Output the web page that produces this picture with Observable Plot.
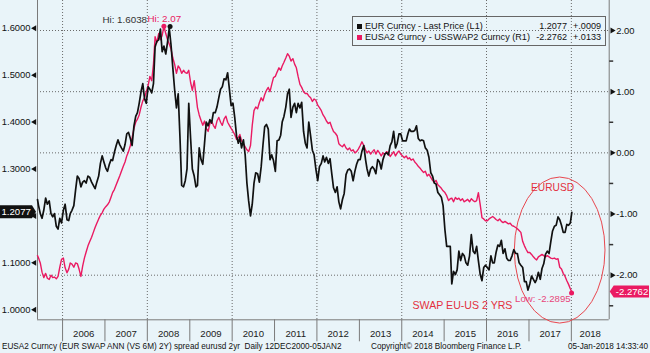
<!DOCTYPE html>
<html>
<head>
<meta charset="utf-8">
<script src="https://cdn.jsdelivr.net/npm/d3@7"></script>
<script src="https://cdn.jsdelivr.net/npm/@observablehq/plot@0.6"></script>
<style>
  html, body { margin:0; padding:0; background:#e9f4f9; }
  #wrap { position:relative; width:650px; height:353px; overflow:hidden; font-family:"Liberation Sans", Arial, sans-serif; color:#111; }
  #chart svg { display:block; }
  #legend { position:absolute; left:352px; top:16px; width:254px; height:30px; border:1px solid #666; box-sizing:border-box; font-size:9.1px; }
  #legend .row { position:absolute; left:0; right:0; height:11px; line-height:11px; white-space:nowrap; }
  #legend .sw { position:absolute; left:4px; top:3px; width:5px; height:5px; }
  #legend .name { position:absolute; left:12px; }
  #legend .val { position:absolute; right:38px; }
  #legend .chg { position:absolute; left:220px; }
  #caption { position:relative; height:12px; font-size:8.2px; line-height:12px; white-space:pre; color:#111; }
  #caption span { position:absolute; top:0; }
</style>
</head>
<body>
<div id="wrap">
  <div id="chart"></div>
  <div id="caption"></div>
  <div id="legend"></div>
</div>
<script>
// ---------------- DATA ----------------
// half-monthly readings (≈8th and ≈23rd of each month), June 2005 .. Dec 2017
const seriesStartYear = 2005, seriesStartMonth = 5; // June (0-based)
const eurusd = [
  1.222,1.205, 1.195,1.212, 1.238,1.225, 1.232,1.205, 1.198,1.205, 1.178,1.172, 1.195,1.185,               // 2005 Jun-Dec
  1.212,1.225, 1.192,1.190, 1.205,1.212, 1.222,1.255, 1.285,1.280, 1.262,1.272, 1.275,1.270, 1.285,1.282, 1.272,1.265, 1.258,1.272, 1.285,1.312, 1.328,1.315, // 2006
  1.302,1.295, 1.310,1.320, 1.318,1.335, 1.350,1.362, 1.352,1.345, 1.338,1.352, 1.375,1.378, 1.365,1.350, 1.392,1.412, 1.420,1.440, 1.465,1.482, 1.450,1.440, // 2007
  1.475,1.470, 1.462,1.482, 1.560,1.572, 1.575,1.598, 1.550,1.562, 1.545,1.570, 1.600,1.565, 1.515,1.470, 1.430,1.460, 1.370,1.265, 1.262,1.275, 1.300,1.440, // 2008
  1.365,1.300, 1.285,1.262, 1.265,1.345, 1.320,1.310, 1.355,1.400, 1.392,1.405, 1.398,1.420, 1.420,1.432, 1.452,1.470, 1.475,1.492, 1.490,1.505, 1.470,1.435, // 2009
  1.440,1.410, 1.370,1.355, 1.368,1.345, 1.362,1.330, 1.270,1.232, 1.200,1.225, 1.270,1.292, 1.290,1.272, 1.305,1.350, 1.390,1.395, 1.385,1.320, 1.330,1.318, // 2010
  1.295,1.360, 1.362,1.372, 1.400,1.412, 1.432,1.460, 1.470,1.410, 1.432,1.440, 1.420,1.440, 1.430,1.442, 1.380,1.355, 1.345,1.400, 1.370,1.340, 1.330,1.300, // 2011
  1.275,1.305, 1.312,1.328, 1.315,1.325, 1.312,1.322, 1.290,1.260, 1.250,1.262, 1.230,1.215, 1.235,1.248, 1.288,1.298, 1.300,1.295, 1.275,1.295, 1.310,1.320, // 2012
  1.320,1.338, 1.350,1.320, 1.300,1.285, 1.300,1.305, 1.300,1.290, 1.320,1.315, 1.300,1.320, 1.332,1.335, 1.330,1.350, 1.358,1.380, 1.345,1.355, 1.375,1.375, // 2013
  1.360,1.360, 1.360,1.375, 1.385,1.380, 1.380,1.382, 1.392,1.365, 1.360,1.362, 1.360,1.345, 1.340,1.325, 1.292,1.285, 1.270,1.268, 1.250,1.245, 1.240,1.222, // 2014
  1.170,1.135, 1.135,1.135, 1.055,1.082, 1.075,1.085, 1.125,1.105, 1.120,1.115, 1.100,1.095, 1.115,1.160, 1.125,1.120, 1.135,1.105, 1.075,1.062, 1.090,1.095, // 2015
  1.090,1.085, 1.115,1.100, 1.100,1.122, 1.138,1.135, 1.148,1.120, 1.130,1.110, 1.105,1.105, 1.115,1.128, 1.120,1.120, 1.100,1.095, 1.090,1.060, 1.060,1.042, // 2016
  1.055,1.072, 1.065,1.058, 1.065,1.080, 1.065,1.088, 1.098,1.118, 1.125,1.120, 1.145,1.168, 1.178,1.180, 1.198,1.192, 1.180,1.165, 1.165,1.182, 1.180,1.185  // 2017
];
const swapSpread = [
  -1.72,-1.80, -1.95,-2.04, -1.97,-2.05, -2.07,-2.00, -2.04,-2.03, -2.06,-2.02, -1.87,-1.74,               // 2005 Jun-Dec
  -1.72,-1.88, -1.96,-1.90, -1.80,-1.82, -1.87,-1.80, -1.81,-1.90, -2.02,-1.85, -1.72,-1.62, -1.52,-1.45, -1.38,-1.30, -1.22,-1.15, -1.08,-1.02, -0.98,-0.92, // 2006
  -0.88,-0.85, -0.80,-0.72, -0.65,-0.60, -0.52,-0.45, -0.38,-0.30, -0.22,-0.15, -0.05,0.02, 0.12,0.25, 0.40,0.50, 0.55,0.62, 0.75,0.85, 0.90,1.00,     // 2007
  1.10,1.25, 1.18,1.45, 1.90,1.80, 1.95,1.85, 1.92,2.07, 1.95,1.85, 1.78,1.70, 1.55,1.45, 1.30,1.42, 1.38,1.30, 1.35,1.31, 1.30,1.35,               // 2008
  1.15,1.02, 1.18,0.95, 0.74,0.62, 0.53,0.45, 0.52,0.40, 0.35,0.48, 0.52,0.45, 0.40,0.52, 0.58,0.50, 0.45,0.55, 0.60,0.50, 0.45,0.40,               // 2009
  0.35,0.30, 0.22,0.25, 0.30,0.20, 0.15,0.10, 0.05,0.02, 0.12,0.45, 0.69,0.75, 0.72,0.82, 0.90,0.85, 0.95,1.02, 1.07,1.00, 1.12,1.23,               // 2010
  1.25,1.32, 1.39,1.35, 1.42,1.48, 1.55,1.62, 1.58,1.50, 1.54,1.45, 1.39,1.25, 1.12,1.07, 1.00,0.97, 0.97,0.93, 0.90,0.84, 0.88,0.86,               // 2011
  0.78,0.74, 0.69,0.62, 0.58,0.52, 0.48,0.50, 0.42,0.35, 0.32,0.28, 0.15,0.12, 0.10,0.14, 0.08,0.05, 0.08,0.03, 0.05,0.00, 0.02,0.06,               // 2012
  0.12,0.18, 0.12,0.05, 0.00,0.03, -0.02,0.02, 0.05,-0.02, 0.04,0.00, -0.05,0.00, -0.03,0.02, 0.00,-0.06, -0.02,0.02, -0.05,0.00, 0.03,-0.02,       // 2013
  -0.05,-0.08, -0.05,-0.10, -0.08,-0.12, -0.10,-0.15, -0.18,-0.22, -0.25,-0.29, -0.32,-0.30, -0.38,-0.35, -0.40,-0.45, -0.48,-0.45, -0.52,-0.55, -0.58,-0.62, // 2014
  -0.65,-0.70, -0.78,-0.75, -0.74,-0.80, -0.73,-0.76, -0.74,-0.78, -0.75,-0.80, -0.78,-0.76, -0.80,-0.75, -0.78,-0.80, -0.78,-0.65, -0.85,-1.06, -1.08,-1.11, // 2015
  -1.11,-1.08, -1.06,-1.04, -1.06,-1.09, -1.11,-1.08, -1.12,-1.14, -1.12,-1.14, -1.16,-1.15, -1.19,-1.20, -1.22,-1.24, -1.27,-1.30, -1.45,-1.52, -1.58,-1.63, // 2016
  -1.63,-1.66, -1.70,-1.73, -1.75,-1.70, -1.68,-1.66, -1.68,-1.70, -1.68,-1.70, -1.72,-1.73, -1.72,-1.74, -1.73,-1.87, -1.90,-1.97, -2.02,-2.09, -2.15,-2.22  // 2017
];
const firstPoint = { date: "2005-05-30", eur: 1.235, swap: -1.68 };
const lastPoint  = { date: "2018-01-05", eur: 1.2077, swap: -2.2762 };
const eurChange = "+.0009", swapChange = "+.0133";

const eurHigh  = { date: "2008-07-15", value: 1.6038, label: "Hi: 1.6038" };
const swapHigh = { date: "2008-05-23", value: 2.07,   label: "Hi: 2.07" };
const swapLow  = { date: "2018-01-03", value: -2.2895, label: "Low: -2.2895" };

const leftTicks  = [1.0, 1.1, 1.2, 1.3, 1.4, 1.5, 1.6];
const rightTicks = [2, 1, 0, -1, -2];
const rightMinorTicks = [1.5, 0.5, -0.5, -1.5, -2.5];
const yearLabels = [2006, 2007, 2008, 2009, 2010, 2011, 2012, 2013, 2014, 2015, 2016, 2017, 2018];
const gridYears  = [2006, 2008, 2010, 2012, 2014, 2016, 2018];

const legendNames = ["EUR Curncy - Last Price (L1)", "EUSA2 Curncy - USSWAP2 Curncy (R1)"];
const captionLeft  = "EUSA2 Curncy (EUR SWAP ANN (VS 6M) 2Y) spread eurusd 2yr  Daily 12DEC2000-05JAN2";
const captionMid   = "Copyright\u00A9 2018 Bloomberg Finance L.P.";
const captionRight = "05-Jan-2018 14:33:40";

// annotation positions (data units: date, left-axis value)
const notes = [
  { text: "EURUSD",           date: "2017-07-23", value: 1.2605, size: 10.2 },
  { text: "SWAP EU-US 2 YRS", date: "2015-06-08", value: 1.009,  size: 10.6 }
];
const ellipseDates  = ["2016-09-01", "2018-10-22"];
const ellipseValues = [0.9707, 1.2818];

// ---------------- SCALES ----------------
const X0 = new Date("2005-05-30"), X1 = new Date("2018-11-23");
const yLo = 0.9787, yHi = 1.6590;     // left axis (EURUSD)
const rLo = -2.729, rHi = 2.4904;     // right axis (swap spread)
const toLeft = r => yLo + (r - rLo) * (yHi - yLo) / (rHi - rLo);

const BLACK = "#111111", PINK = "#ea1a62", RED = "#e33040", GRID = "#6a6a6a", AXIS = "#7a7a7a";

// ---------------- TABLE ----------------
const rows = [{ date: new Date(firstPoint.date), eur: firstPoint.eur, swap: firstPoint.swap }];
const n = Math.min(eurusd.length, swapSpread.length);
for (let i = 0; i < n; i++) {
  const m = seriesStartMonth + Math.floor(i / 2);
  rows.push({ date: new Date(Date.UTC(seriesStartYear + Math.floor(m / 12), m % 12, i % 2 ? 23 : 8)), eur: eurusd[i], swap: swapSpread[i] });
}
rows.push({ date: new Date(lastPoint.date), eur: lastPoint.eur, swap: lastPoint.swap });

// left labels hidden where the last-value tag sits (as in the reference)
const leftLabelTicks = leftTicks.filter(t => Math.abs(t - lastPoint.eur) > 0.03);

const jan1 = y => new Date(Date.UTC(y, 0, 1));
const yearCenter = y => {
  const a = Math.max(+jan1(y), +X0), b = Math.min(+jan1(y + 1), +X1);
  return new Date((a + b) / 2);
};

const hTick = { draw(ctx) { ctx.moveTo(0, 0); ctx.lineTo(4, 0); } };

function ellipseMark(index, scales) {
  const x1 = scales.x(new Date(ellipseDates[0])), x2 = scales.x(new Date(ellipseDates[1]));
  const y1 = scales.y(ellipseValues[0]), y2 = scales.y(ellipseValues[1]);
  return d3.create("svg:ellipse")
    .attr("cx", (x1 + x2) / 2).attr("cy", (y1 + y2) / 2)
    .attr("rx", Math.abs(x2 - x1) / 2).attr("ry", Math.abs(y2 - y1) / 2)
    .attr("fill", "none").attr("stroke", "#e8474f").attr("stroke-width", 1).node();
}
function tagMarks(index, scales, values, dim) {
  const g = d3.create("svg:g").attr("font-size", 9.6).attr("font-family", "Liberation Sans, Arial, sans-serif").attr("text-anchor", "start");
  const yl = scales.y(lastPoint.eur), xl = dim.marginLeft;
  g.append("path").attr("d", `M0,${yl - 6.5}H${xl - 5}L${xl - 1},${yl}L${xl - 5},${yl + 6.5}H0Z`).attr("fill", BLACK);
  g.append("text").attr("x", 1.5).attr("y", yl).attr("dy", "0.36em").attr("fill", "#fff").attr("text-anchor", "start").text(lastPoint.eur.toFixed(4));
  const yr = scales.y(toLeft(lastPoint.swap)), xr = dim.width - dim.marginRight;
  g.append("path").attr("d", `M${xr + 1},${yr}L${xr + 5},${yr - 6}H${dim.width - 1}V${yr + 6}H${xr + 5}Z`).attr("fill", PINK);
  g.append("text").attr("x", xr + 7).attr("y", yr).attr("dy", "0.36em").attr("fill", "#fff").attr("text-anchor", "start").text(lastPoint.swap.toFixed(4));
  return g.node();
}

const chart = Plot.plot({
  width: 650, height: 341,
  marginLeft: 37, marginRight: 41.3, marginTop: 0, marginBottom: 21.7,
  x: { type: "utc", domain: [X0, X1], axis: null },
  y: { domain: [yLo, yHi], axis: null },
  style: { background: "transparent", fontFamily: "Liberation Sans, Arial, sans-serif", fontSize: "9.4px", color: "#111", overflow: "visible" },
  marks: [
    // grid
    Plot.ruleY(rightTicks, { y: d => toLeft(d), stroke: GRID, strokeDasharray: "1,2", strokeWidth: 1 }),
    Plot.ruleX(gridYears.map(jan1), { stroke: GRID, strokeDasharray: "1,2", strokeWidth: 1 }),
    Plot.ruleX(yearLabels.map(jan1), { stroke: AXIS, strokeWidth: 1, insetTop: 319.3, insetBottom: -22 }),
    // frame
    Plot.ruleY([yLo], { stroke: AXIS }),
    Plot.ruleX([X0], { stroke: AXIS }),
    Plot.ruleX([X1], { stroke: AXIS }),
    // ellipse
    ellipseMark,
    // series
    Plot.line(rows, { x: "date", y: d => toLeft(d.swap), stroke: PINK, strokeWidth: 1.4 }),
    Plot.line(rows, { x: "date", y: "eur", stroke: BLACK, strokeWidth: 1.7 }),
    // high / low markers
    Plot.dot([eurHigh], { x: d => new Date(d.date), y: "value", r: 2.5, fill: BLACK, stroke: null }),
    Plot.dot([swapHigh, swapLow], { x: d => new Date(d.date), y: d => toLeft(d.value), r: 2.5, fill: PINK, stroke: null }),
    Plot.text([eurHigh], { x: d => new Date(d.date), y: "value", text: "label", textAnchor: "end", dx: -23, dy: -7, fill: "#333", fontSize: 9.8 }),
    Plot.text([swapHigh], { x: d => new Date(d.date), y: d => toLeft(d.value), text: "label", textAnchor: "start", dx: -16.5, dy: -7, fill: PINK, fontSize: 9.8 }),
    Plot.text([swapLow], { x: d => new Date(d.date), y: d => toLeft(d.value), text: "label", textAnchor: "end", dx: -1, dy: 6, fill: "#e8457a", fontSize: 9.6 }),
    Plot.text(notes, { x: d => new Date(d.date), y: "value", text: "text", fill: RED, fontSize: d => d.size }),
    // left axis
    Plot.text(leftLabelTicks, { y: d => d, text: d => d.toFixed(4), frameAnchor: "left", textAnchor: "end", dx: -7, fill: "#111" }),
    Plot.dot(leftTicks, { y: d => d, frameAnchor: "left", dx: -3, symbol: "triangle", r: 2.2, rotate: -90, fill: BLACK, stroke: null }),
    // right axis
    Plot.text(rightTicks, { y: d => toLeft(d), text: d => d.toFixed(2), frameAnchor: "right", textAnchor: "start", dx: 7, fill: "#111" }),
    Plot.dot(rightTicks, { y: d => toLeft(d), frameAnchor: "right", dx: 3, symbol: "triangle", r: 2.2, rotate: 90, fill: BLACK, stroke: null }),
    Plot.dot(rightMinorTicks, { y: d => toLeft(d), frameAnchor: "right", symbol: hTick, r: 3, fill: "none", stroke: "#333" }),
    // year labels
    Plot.text(yearLabels, { x: d => yearCenter(d), text: d => String(d), frameAnchor: "bottom", dy: 17, fill: "#222", fontSize: 9.6 }),
    // last value tags
    tagMarks
  ]
});
document.getElementById("chart").appendChild(chart);

// legend
const legend = d3.select("#legend");
[[BLACK, legendNames[0], lastPoint.eur.toFixed(4), eurChange], [PINK, legendNames[1], lastPoint.swap.toFixed(4), swapChange]]
  .forEach(([c, name, val, chg], i) => {
    const row = legend.append("div").attr("class", "row").style("top", (i ? 14.6 : 4.2) + "px");
    row.append("span").attr("class", "sw").style("background", c);
    row.append("span").attr("class", "name").text(name);
    row.append("span").attr("class", "val").text(val);
    row.append("span").attr("class", "chg").text(chg);
  });

// caption
const cap = d3.select("#caption");
cap.append("span").style("left", "2px").text(captionLeft);
cap.append("span").style("left", "371px").text(captionMid);
cap.append("span").style("right", "2px").text(captionRight);
</script>
</body>
</html>
